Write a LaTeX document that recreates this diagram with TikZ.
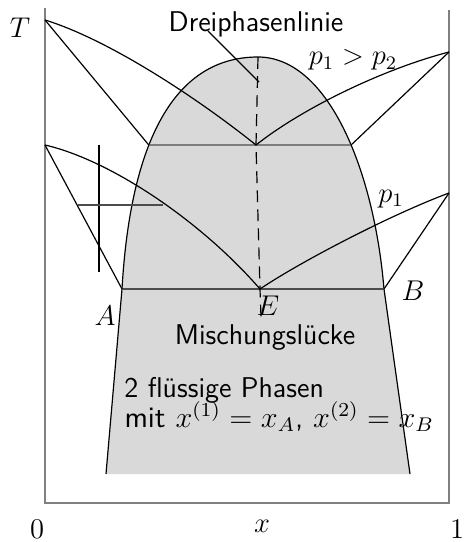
\documentclass[tikz,border=0pt]{standalone}
\usepackage{tikz}
\usetikzlibrary{positioning, calc, intersections}
\tikzset{
  axis/.style={draw=gray, line width=0.8pt},
  tieline/.style={draw=black!70, line width=0.6pt},
  phaseline/.style={draw=black, line width=0.5pt},
  gap/.style={fill=gray!30},
  threeph/.style={draw=black, dash pattern=on 5pt off 3pt, line width=0.5pt},
  txt/.style={font=\large\sffamily, inner sep=0pt},
  lbl/.style={font=\large, inner sep=0pt}
}

\begin{document}
\begin{tikzpicture}[x=0.42pt, y=-0.42pt]
    \useasboundingbox (0,0) rectangle (464,542);

    % Eckpunkte
    \coordinate (O) at (45,503);
    \coordinate (X1) at (449,503);
    \coordinate (Ltop) at (45,8);
    \coordinate (Rtop) at (449,10);
    \coordinate (TA2) at (45,20);
    \coordinate (TA1) at (45,145);
    \coordinate (TB2) at (449,52);
    \coordinate (TB1) at (449,193);
    \coordinate (E2) at (256,145);
    \coordinate (A) at (122,289);
    \coordinate (B) at (384,289);
    \coordinate (E) at (260,289);
    \coordinate (Eend) at (261,317);
    \coordinate (K) at (258,57);
    \coordinate (Aunten) at (106,474);
    \coordinate (Bunten) at (410,474);

    % Mischungsluecke
    \fill[gap] (Aunten) -- (A) .. controls (130,150) and (170,57) .. (K)
        .. controls (328,57) and (374,170) .. (B) -- (Bunten) -- cycle;
    \draw[phaseline, name path=dome] (Aunten) -- (A) .. controls (130,150) and (170,57) .. (K)
        .. controls (328,57) and (374,170) .. (B) -- (Bunten);
    \path[name path=hline] (60,145) -- (440,145);
    \path[name intersections={of=dome and hline, by={A2,B2}, sort by=hline}];

    % Achsen
    \draw[axis] (Ltop) -- (O) -- (X1) -- (Rtop);

    % Dreiphasenlinien
    \draw[tieline] (A2) -- (B2);
    \draw[tieline] (A) -- (B);

    % Kurven fuer p2
    \draw[phaseline] (TA2) .. controls (110,40) and (200,100) .. (E2)
        .. controls (300,110) and (380,70) .. (TB2);
    \draw[phaseline] (TA2) -- (A2);
    \draw[phaseline] (TB2) -- (B2);

    % Kurven fuer p1
    \draw[phaseline] (TA1) .. controls (110,160) and (200,220) .. (E)
        .. controls (300,262) and (390,215) .. (TB1);
    \draw[phaseline] (TA1) -- (A);
    \draw[phaseline] (TB1) -- (B);

    % eutektische Punkte
    \draw[threeph] (K) -- (E2) -- (E) -- (Eend);

    % Hebel
    \coordinate (L1) at (99,145);
    \coordinate (L2) at (99,272);
    \coordinate (H1) at (78,205);
    \coordinate (H2) at (163,205);
    \draw[phaseline] (L1) -- (L2);
    \draw[tieline] (H1) -- (H2);

    % Beschriftung
    \node[txt] (dreil) at (256,24) {Dreiphasenlinie};
    \coordinate (leadA) at (208,31);
    \coordinate (leadB) at (259,82);
    \draw[phaseline] (leadA) -- (leadB);
    \node[lbl] (pp) at (353,60) {$p_1 > p_2$};
    \node[lbl] (pe) at (391,199) {$p_1$};
    \node[lbl] (labA) at (105,316) {$A$};
    \node[lbl] (labB) at (413,291) {$B$};
    \node[lbl] (labE) at (268,306) {$E$};
    \node[txt, anchor=base] (misch) at (265,344) {Mischungslücke};
    \node[txt, anchor=base west] (zwei) at (124,397) {2 flüssige Phasen};
    \node[txt, anchor=base west, xscale=1.06, yscale=1.04] (mit) at (124,427) {mit $x^{(1)} = x_A$, $x^{(2)} = x_B$};
    \node[lbl] (labT) at (20,28) {$T$};
    \node[lbl] (lab0) at (37,529) {$0$};
    \node[lbl] (labx) at (262,526) {$x$};
    \node[lbl] (lab1) at (457,529) {$1$};
\end{tikzpicture}
\end{document}
